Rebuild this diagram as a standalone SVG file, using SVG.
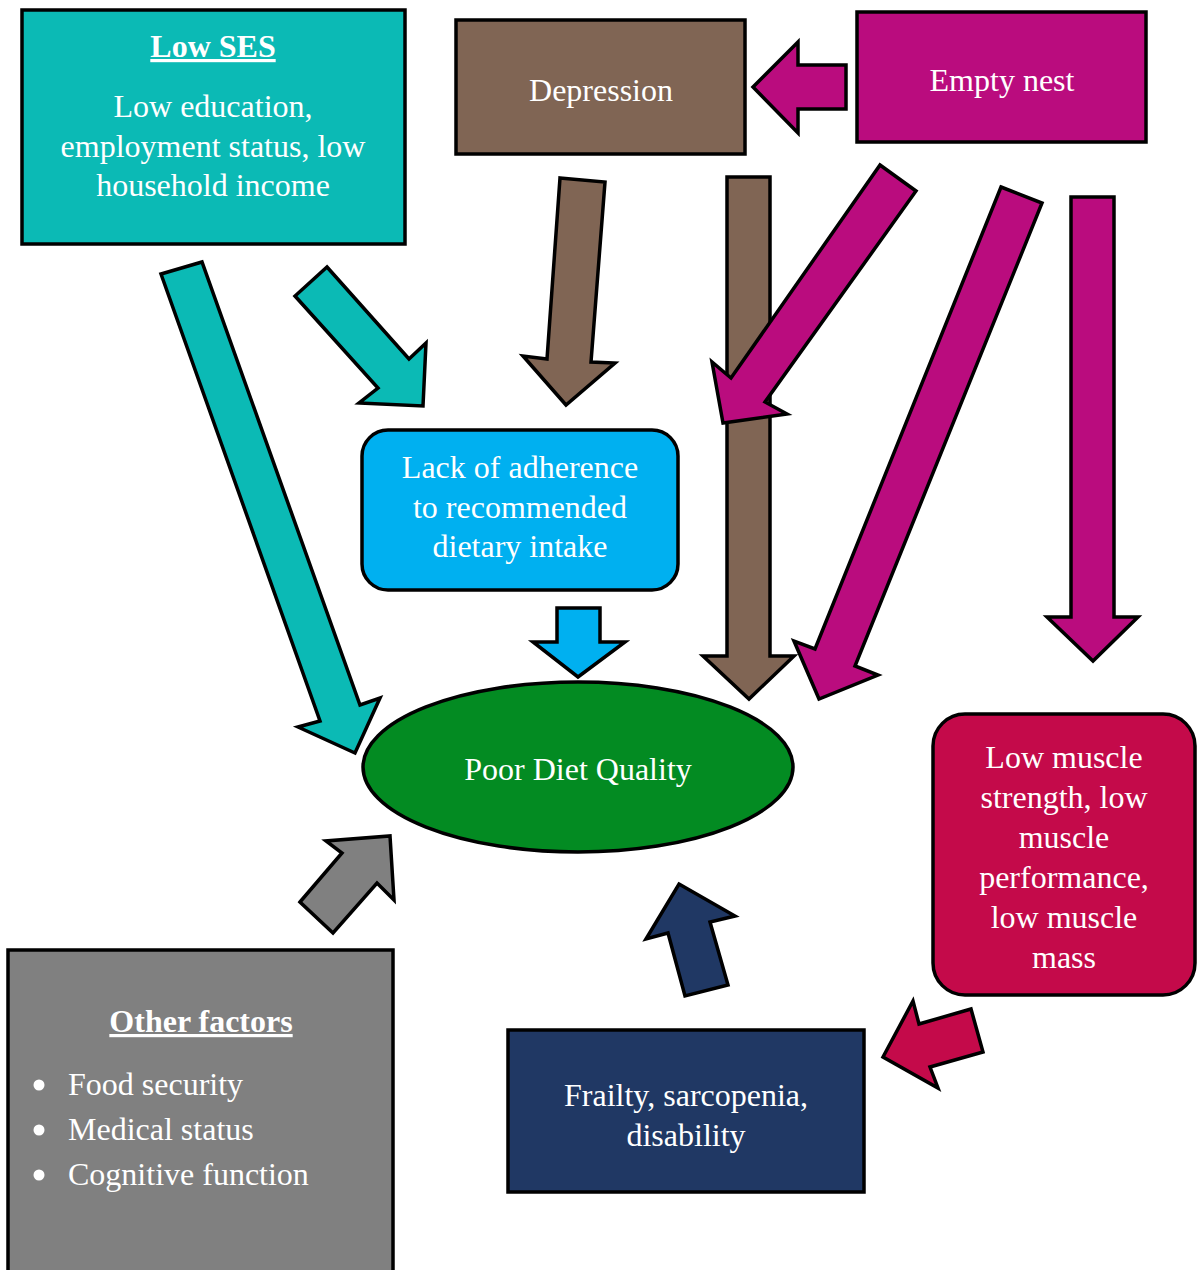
<svg xmlns="http://www.w3.org/2000/svg" width="1199" height="1270" viewBox="0 0 1199 1270">
<style>
.n{stroke:#000;stroke-width:3.5}
.c{stroke:#000;stroke-width:3.5;stroke-linejoin:miter}
.t{font-family:"Liberation Serif","Times New Roman",serif;font-size:32px;fill:#fff;text-anchor:middle}
.h{font-weight:bold;text-decoration:underline}
.s{text-anchor:start}
.teal{fill:#0BBAB5}.brown{fill:#806554}.mag{fill:#BA0C7E}.sky{fill:#00B0F0}
.green{fill:#038B22}.crim{fill:#C40A4A}.navy{fill:#203864}.gray{fill:#808080}
</style>
<rect width="1199" height="1270" fill="#fff"/>
<g id="low-ses">
<rect class="n teal" x="22" y="10" width="383" height="234"/>
<text class="t h" x="213" y="57">Low SES</text>
<text class="t" x="213" y="117">Low education,</text>
<text class="t" x="213" y="157">employment status, low</text>
<text class="t" x="213" y="196">household income</text>
</g>
<g id="depression">
<rect class="n brown" x="456" y="20" width="289" height="134"/>
<text class="t" x="601" y="101">Depression</text>
</g>
<g id="empty-nest">
<rect class="n mag" x="857" y="12" width="289" height="130"/>
<text class="t" x="1002" y="91">Empty nest</text>
</g>
<g id="lack-adherence">
<rect class="n sky" x="362" y="430" width="316" height="160" rx="26"/>
<text class="t" x="520" y="478">Lack of adherence</text>
<text class="t" x="520" y="518">to recommended</text>
<text class="t" x="520" y="557">dietary intake</text>
</g>
<g id="poor-diet">
<ellipse class="n green" cx="578" cy="767" rx="215" ry="85"/>
<text class="t" x="578" y="780">Poor Diet Quality</text>
</g>
<g id="low-muscle">
<rect class="n crim" x="933" y="714" width="262" height="281" rx="32"/>
<text class="t" x="1064" y="768">Low muscle</text>
<text class="t" x="1064" y="808">strength, low</text>
<text class="t" x="1064" y="848">muscle</text>
<text class="t" x="1064" y="888">performance,</text>
<text class="t" x="1064" y="928">low muscle</text>
<text class="t" x="1064" y="968">mass</text>
</g>
<g id="frailty">
<rect class="n navy" x="508" y="1030" width="356" height="162"/>
<text class="t" x="686" y="1106">Frailty, sarcopenia,</text>
<text class="t" x="686" y="1146">disability</text>
</g>
<g id="other-factors">
<rect class="n gray" x="8" y="950" width="385" height="340"/>
<text class="t h" x="201" y="1032">Other factors</text>
<circle cx="39" cy="1085" r="5.5" fill="#fff"/>
<circle cx="39" cy="1130" r="5.5" fill="#fff"/>
<circle cx="39" cy="1175" r="5.5" fill="#fff"/>
<text class="t s" x="68" y="1095">Food security</text>
<text class="t s" x="68" y="1140">Medical status</text>
<text class="t s" x="68" y="1185">Cognitive function</text>
</g>
<g id="connectors">
<polygon class="c teal" points="161,274 202,262 360,705 380,698 355,753 298,727 320,721"/>
<polygon class="c teal" points="327,267 409,359 426,343 423,406 359,403 378,388 295,296"/>
<polygon class="c brown" points="560,178 605,182 591,362 615,363 566,405 523,356 547,359"/>
<polygon class="c brown" points="727,177 770,177 770,656 794,656 749,699 703,656 727,656"/>
<polygon class="c mag" points="753,87 798,42 798,65 846,65 846,109 798,109 798,133"/>
<polygon class="c mag" points="880,165 916,191 765,402 787,414 723,423 712,362 731,378"/>
<polygon class="c mag" points="1001,187 1042,203 855,666 878,675 819,699 794,641 815,649"/>
<polygon class="c mag" points="1071,197 1114,197 1114,617 1138,617 1093,661 1047,617 1071,617"/>
<polygon class="c sky" points="557,608 600,608 600,642 625,642 578,677 533,642 557,642"/>
<polygon class="c gray" points="300,902 342,853 326,841 390,836 394,900 377,883 333,933"/>
<polygon class="c navy" points="679,884 735,916 710,922 728,985 685,996 668,933 646,939"/>
<polygon class="c crim" points="883,1057 913,1001 919,1024 971,1009 983,1052 930,1067 938,1088"/>
</g>
</svg>
